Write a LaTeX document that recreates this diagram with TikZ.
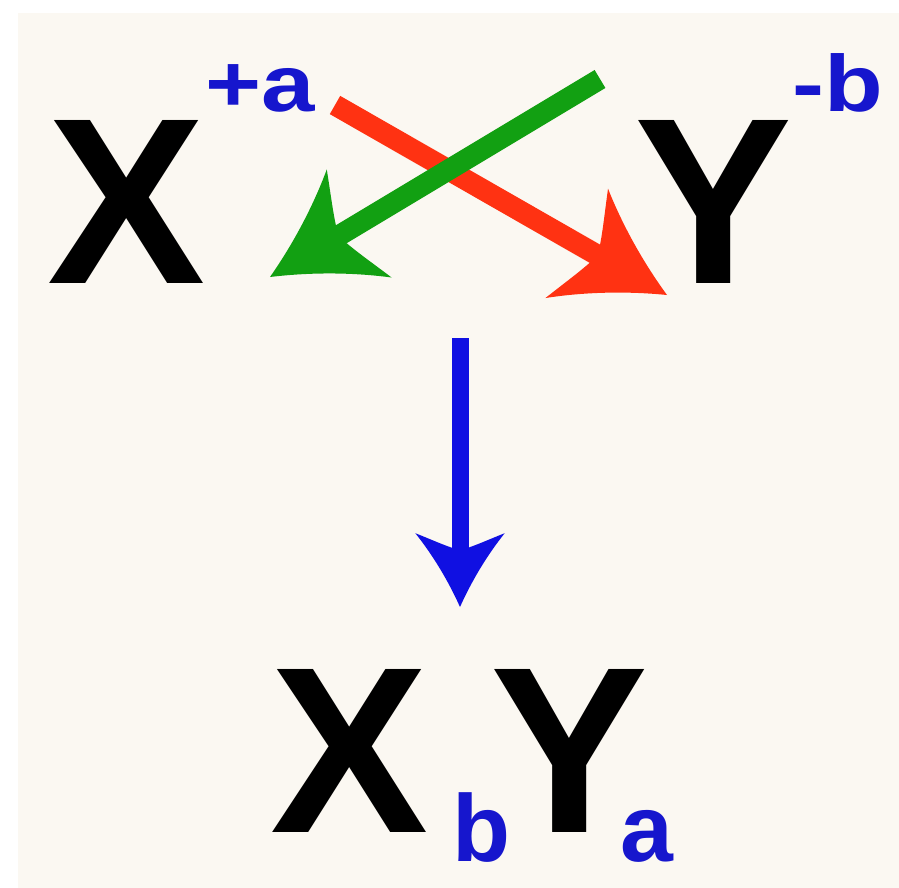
\documentclass[tikz,border=0pt]{standalone}
\usepackage{fontspec}
\setmainfont{Liberation Sans}
\definecolor{bgcream}{RGB}{251,248,242}
\definecolor{arrred}{RGB}{255,50,18}
\definecolor{arrgreen}{RGB}{18,160,18}
\definecolor{arrblue}{RGB}{16,16,226}
\definecolor{txtblue}{RGB}{22,22,205}
\newcommand\arrhead[4]{%
  \begin{scope}[shift={(#2)},rotate=#3,scale=#4]
    \fill[#1] (0,0) .. controls (-38,17) and (-74,39) .. (-104,63)
      .. controls (-94,38) and (-84,16) .. (-80,0)
      .. controls (-84,-16) and (-94,-38) .. (-104,-63)
      .. controls (-74,-39) and (-38,-17) .. (0,0) -- cycle;
  \end{scope}}
\begin{document}
\begin{tikzpicture}[x=1pt,y=-1pt,
  bigletter/.style={inner sep=0pt,anchor=base west,font=\bfseries\fontsize{237}{237}\selectfont,text=black},
  suptext/.style={inner sep=0pt,anchor=base west,font=\bfseries\fontsize{80}{80}\selectfont,text=txtblue},
  subtext/.style={inner sep=0pt,anchor=base west,font=\bfseries\fontsize{95}{95}\selectfont,text=txtblue},
  shaft/.style={line width=21pt,line cap=butt,shorten >=72pt},
  bshaft/.style={line width=17pt,line cap=butt,shorten >=52pt}]
\useasboundingbox (0,0) rectangle (899,888);
\fill[white] (0,0) rectangle (899,888);
\fill[bgcream] (18,13) rectangle (899,888);
% letters
\node[bigletter] (X) at (47,283) {X};
\node[suptext] (pa) at (205,112) {\scalebox{1.2}[1]{+a}};
\node[bigletter] (Y) at (634,283) {Y};
\node[suptext] (mb) at (792,112) {\scalebox{1.2}[1]{-b}};
\node[bigletter] (X2) at (270,832) {X};
\node[subtext] (sb) at (452,861) {b};
\node[bigletter] (Y2) at (490,832) {Y};
\node[subtext] (sa) at (620,861) {a};
% arrow end points
\coordinate (rs) at (335,105);
\coordinate (re) at (667,295);
\coordinate (gs) at (600,79);
\coordinate (ge) at (270,277);
\coordinate (bs) at (460,338);
\coordinate (be) at (460,607);
% red arrow
\draw[shaft,arrred] (rs) -- (re);
\arrhead{arrred}{re}{-29.78}{1}
% green arrow (on top)
\draw[shaft,arrgreen] (gs) -- (ge);
\arrhead{arrgreen}{ge}{-149.04}{1}
% blue arrow
\draw[bshaft,arrblue] (bs) -- (be);
\arrhead{arrblue}{be}{-90}{0.71}
\end{tikzpicture}
\end{document}
